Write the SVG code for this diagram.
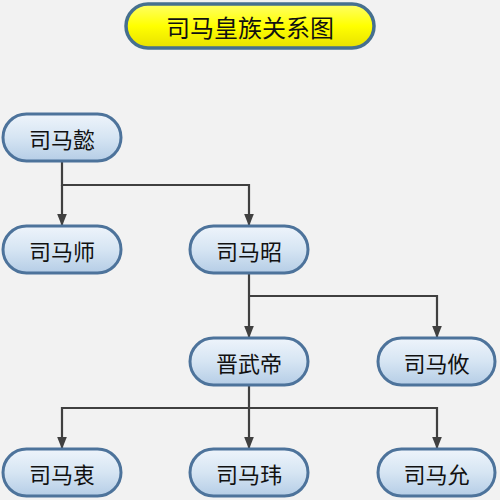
<svg xmlns="http://www.w3.org/2000/svg" width="500" height="500" viewBox="0 0 500 500">
<style>
.node rect{fill:url(#nb);stroke:#4d739b;stroke-width:3}
.node text{font-family:"Noto Sans CJK SC","Liberation Sans",sans-serif;font-size:22px;fill:#111;text-anchor:middle;dominant-baseline:central}
.conn path{fill:none;stroke:#404040;stroke-width:2.2;marker-end:url(#ah)}
</style>
<defs>
<linearGradient id="nb" x1="0" y1="0" x2="0" y2="1">
<stop offset="0" stop-color="#eef4fb"/>
<stop offset="0.5" stop-color="#d6e5f3"/>
<stop offset="1" stop-color="#b5cde6"/>
</linearGradient>
<linearGradient id="yb" x1="0" y1="0" x2="0" y2="1">
<stop offset="0" stop-color="#ffff66"/>
<stop offset="0.5" stop-color="#ffff00"/>
<stop offset="1" stop-color="#e8e000"/>
</linearGradient>
<marker id="ah" viewBox="0 0 10 10" refX="9" refY="5" markerWidth="5.5" markerHeight="5.5" orient="auto" markerUnits="strokeWidth">
<path d="M0,1 L10,5 L0,9 z" fill="#404040"/>
</marker>
</defs>
<rect width="500" height="500" fill="#f2f2f2"/>
<g id="title">
<rect x="126" y="4" width="248" height="44" rx="22" fill="url(#yb)" stroke="#46708f" stroke-width="3.5"/>
<text x="250" y="26" font-family="Noto Sans CJK SC,Liberation Sans,sans-serif" font-size="24" fill="#111" text-anchor="middle" dominant-baseline="central">司马皇族关系图</text>
</g>
<g id="connectors" class="conn">
<path d="M62,162 V185 H249 V225"/>
<path d="M62,185 V225"/>
<path d="M249,273 V337"/>
<path d="M249,296 H437 V337"/>
<path d="M249,385 V448"/>
<path d="M249,408 H62 V448"/>
<path d="M249,408 H437 V448"/>
</g>
<g id="n1" class="node"><rect x="3" y="114" width="118" height="47" rx="23.5"/><text x="62" y="137.5">司马懿</text></g>
<g id="n2" class="node"><rect x="3" y="226" width="118" height="47" rx="23.5"/><text x="62" y="249.5">司马师</text></g>
<g id="n3" class="node"><rect x="190" y="226" width="118" height="47" rx="23.5"/><text x="249" y="249.5">司马昭</text></g>
<g id="n4" class="node"><rect x="190" y="338" width="118" height="47" rx="23.5"/><text x="249" y="361.5">晋武帝</text></g>
<g id="n5" class="node"><rect x="378" y="338" width="117" height="47" rx="23.5"/><text x="436.5" y="361.5">司马攸</text></g>
<g id="n6" class="node"><rect x="3" y="449" width="118" height="47" rx="23.5"/><text x="62" y="472.5">司马衷</text></g>
<g id="n7" class="node"><rect x="190" y="449" width="118" height="47" rx="23.5"/><text x="249" y="472.5">司马玮</text></g>
<g id="n8" class="node"><rect x="378" y="449" width="117" height="47" rx="23.5"/><text x="436.5" y="472.5">司马允</text></g>
</svg>
